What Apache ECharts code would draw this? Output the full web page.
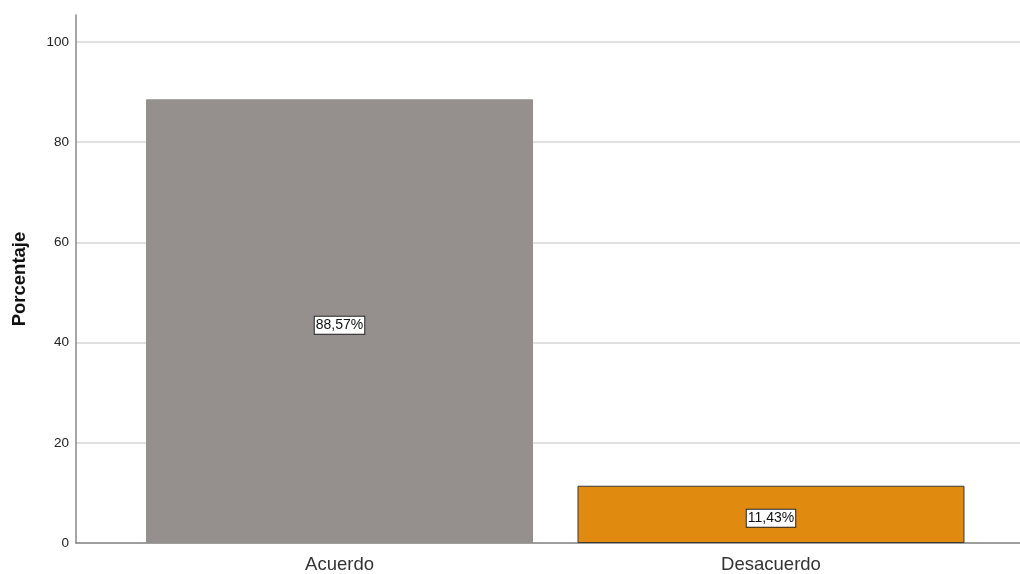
<!DOCTYPE html>
<html>
<head>
<meta charset="utf-8">
<script src="https://cdn.jsdelivr.net/npm/echarts@6/dist/echarts.min.js"></script>
<style>
html,body{margin:0;padding:0;background:#fff;}
#chart{width:1020px;height:574px;}
</style>
</head>
<body>
<div id="chart"></div>
<script>
const categories = ['Acuerdo', 'Desacuerdo'];
const values = [88.57, 11.43];
const labels = ['88,57%', '11,43%'];
const barColors = ['#958f8d', '#e08a10'];
const barBorders = ['#958f8d', '#3a3a3a'];
const yTicks = [0, 20, 40, 60, 80, 100];

const chart = echarts.init(document.getElementById('chart'));
chart.setOption({
  animation: false,
  grid: {left: 76, right: 0, top: 15, bottom: 30, containLabel: false},
  xAxis: {
    type: 'value',
    min: -0.6107, max: 1.5771,
    axisLine: {show: true, onZero: false, lineStyle: {color: '#888', width: 1.5}},
    axisTick: {show: false},
    splitLine: {show: false},
    axisLabel: {
      customValues: [0, 1],
      formatter: v => categories[Math.round(v)],
      fontFamily: 'Liberation Sans', fontSize: 18.5, color: '#333', margin: 12
    }
  },
  yAxis: {
    type: 'value', min: 0, max: 105.4, interval: 20,
    name: 'Porcentaje', nameLocation: 'middle', nameGap: 47,
    nameTextStyle: {fontFamily: 'Liberation Sans', fontSize: 18.5, fontWeight: 'bold', color: '#111'},
    axisLine: {show: true, onZero: false, lineStyle: {color: '#888', width: 1.5}},
    axisTick: {show: false},
    axisLabel: {
      customValues: yTicks,
      fontFamily: 'Liberation Sans', fontSize: 13.5, color: '#222', margin: 7
    },
    splitLine: {show: true, showMaxLine: false, lineStyle: {color: '#d6d6d6', width: 1.5}}
  },
  series: [{
    type: 'bar',
    barWidth: 387,
    data: values.map((v, i) => ({
      value: [i, v],
      itemStyle: {color: barColors[i], borderColor: barBorders[i], borderWidth: 1}
    })),
    label: {
      show: true, position: 'inside', offset: [0, 4],
      formatter: p => labels[p.dataIndex],
      fontFamily: 'Liberation Sans', fontSize: 14, color: '#111',
      backgroundColor: '#fff', borderColor: '#222', borderWidth: 1,
      padding: [2, 1, 1, 1]
    }
  }]
});
</script>
</body>
</html>
